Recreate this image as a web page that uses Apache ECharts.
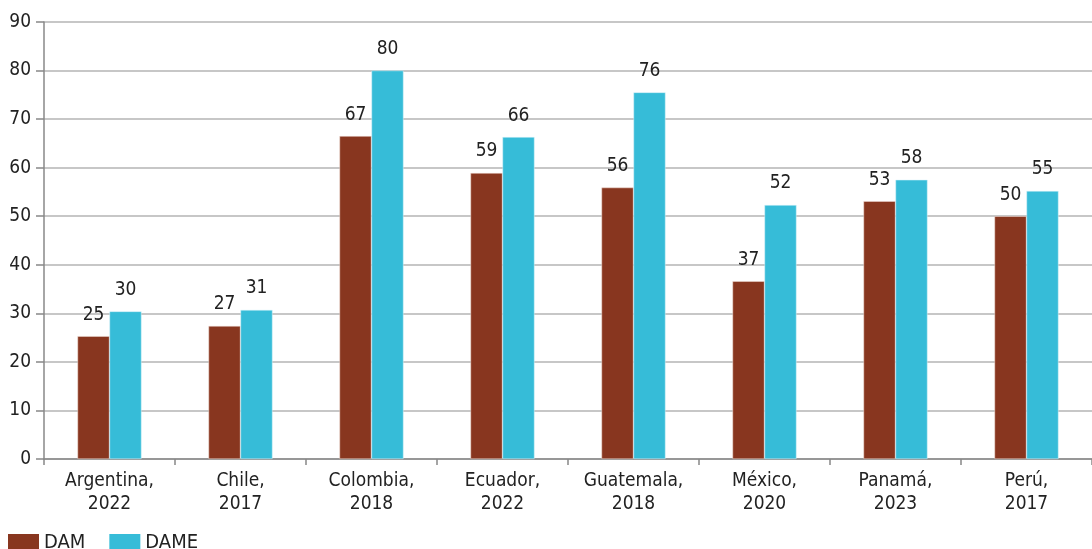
<!DOCTYPE html>
<html>
<head>
<meta charset="utf-8">
<script src="https://cdn.jsdelivr.net/npm/echarts@6/dist/echarts.min.js"></script>
<style>
html,body{margin:0;padding:0;background:#fff;}
#c{width:1092px;height:549px;}
</style>
</head>
<body>
<div id="c"></div>
<script>
var categories = ["Argentina,\n2022","Chile,\n2017","Colombia,\n2018","Ecuador,\n2022","Guatemala,\n2018","México,\n2020","Panamá,\n2023","Perú,\n2017"];
var seriesNames = ["DAM","DAME"];
var damValues = [25.3, 27.4, 66.5, 58.9, 55.9, 36.6, 53.1, 50.0];
var dameValues = [30.4, 30.7, 80.0, 66.3, 75.5, 52.3, 57.5, 55.2];
var yTicks = {min:0, max:90, interval:10};

var FONT = '"Liberation Sans Narrow","DejaVu Sans Condensed","Roboto Condensed",sans-serif';
var chart = echarts.init(document.getElementById('c'), null, {renderer:'canvas'});
var labelCfg = {
  show:true, position:'top', distance:12,
  fontFamily:FONT, fontSize:19, color:'#222',
  formatter:function(p){return Math.round(p.value);}
};
chart.setOption({
  animation:false,
  textStyle:{fontFamily:FONT},
  grid:{left:44,right:0,top:22,bottom:90,containLabel:false},
  legend:{
    left:8, top:533, padding:0, itemWidth:31, itemHeight:18, itemGap:24,
    icon:'rect',
    itemStyle:{borderWidth:0},
    textStyle:{fontFamily:FONT,fontSize:20,color:'#222'},
    data:seriesNames
  },
  xAxis:{
    type:'category', data:categories,
    axisLine:{lineStyle:{color:'#888',width:1.5}},
    axisTick:{show:true,length:6,alignWithLabel:false,lineStyle:{color:'#888',width:1.5}},
    axisLabel:{fontFamily:FONT,fontSize:19,color:'#222',lineHeight:23,margin:11,interval:0}
  },
  yAxis:{
    type:'value', min:yTicks.min, max:yTicks.max, interval:yTicks.interval,
    axisLine:{show:true,lineStyle:{color:'#888',width:1.5}},
    axisTick:{show:true,length:8,lineStyle:{color:'#888',width:1.5}},
    axisLabel:{fontFamily:FONT,fontSize:19,color:'#222',margin:13},
    splitLine:{lineStyle:{color:'#b5b5b5',width:1.5}}
  },
  series:[
    {name:seriesNames[0], type:'bar', data:damValues, barWidth:32, barGap:'0%',
     itemStyle:{color:'#88361F',borderColor:'#f3e0da',borderWidth:0.5}, label:labelCfg},
    {name:seriesNames[1], type:'bar', data:dameValues, barWidth:32, barGap:'0%',
     itemStyle:{color:'#36BCD8',borderColor:'#d8f2f8',borderWidth:0.5}, label:labelCfg}
  ]
});
</script>
</body>
</html>
